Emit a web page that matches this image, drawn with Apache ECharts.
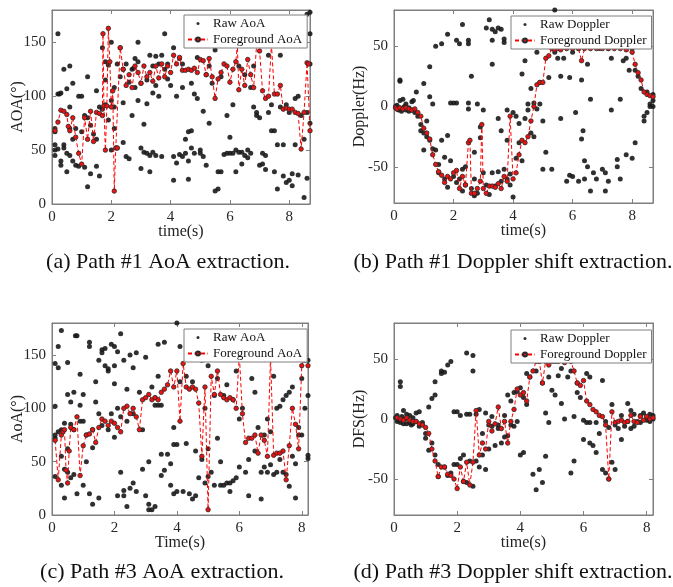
<!DOCTYPE html>
<html>
<head>
<meta charset="utf-8">
<script src="https://cdn.jsdelivr.net/npm/echarts@6/dist/echarts.min.js"></script>
<style>
  html, body { margin: 0; padding: 0; background: #fff; }
  #chart { width: 673px; height: 587px; }
</style>
</head>
<body>
<div id="chart"></div>
<script>
// (a) Path #1 AoA
var aoa1Raw = [[0.2,158],[0.1,70],[0.1,67],[0.1,55],[0.1,50],[0.1,45],[0.2,51],[0.2,102],[0.25,102],[0.3,103],[0.3,40],[0.3,36],
  [0.4,125],[0.4,55],[0.4,52],[0.5,107],[0.5,47],[0.5,30],[0.6,128],[0.6,90],[0.6,45],[0.6,70],[0.7,112],[0.7,60],[0.7,40],
  [0.8,70],[0.8,36],[0.9,100],[0.9,35],[1.0,100],[1.0,67],[1.1,82],[1.1,34],[1.2,118],[1.2,16],[1.2,80],[1.3,73],[1.3,28],
  [1.4,65],[1.5,35],[1.5,105],[1.6,26],[1.5,60],[1.6,90],[1.7,88],[1.7,145],[1.8,132],[1.8,115],[1.8,92],[1.9,129],[1.9,78],
  [2.0,150],[2.0,96],[2.0,50],[2.1,108],[2.1,70],[2.1,90],[2.2,130],[2.2,52],[2.3,145],[2.3,118],[2.4,94],[2.4,125],[2.4,57],
  [2.5,44],[2.5,130],[2.6,113],[2.6,42],[2.7,125],[2.7,82],[2.75,126],[2.8,135],[2.8,108],[2.9,150],[2.9,96],[2.9,132],
  [3.0,112],[3.0,52],[3.0,33],[3.1,48],[3.1,74],[3.2,93],[3.2,47],[3.2,115],[3.3,138],[3.3,45],[3.3,30],[3.4,128],[3.4,103],
  [3.4,48],[3.5,137],[3.5,110],[3.5,45],[3.6,130],[3.6,100],[3.7,138],[3.7,44],[3.8,158],[3.8,125],[3.9,130],[3.9,116],
  [4.0,110],[4.1,145],[4.1,44],[4.1,22],[4.2,100],[4.2,38],[4.3,135],[4.3,46],[4.4,130],[4.4,108],[4.4,44],[4.5,60],[4.5,47],
  [4.6,40],[4.6,67],[4.6,23],[4.7,112],[4.7,52],[4.7,68],[4.8,102],[4.8,47],[4.9,136],[4.9,98],[5.0,47],[5.0,50],[5.1,86],
  [5.1,44],[5.2,120],[5.2,36],[5.3,75],[5.3,128],[5.4,112],[5.5,143],[5.5,12],[5.6,30],[5.6,14],[5.7,118],[5.7,30],[5.8,46],
  [5.9,82],[5.9,47],[6.0,62],[6.0,47],[6.1,92],[6.1,47],[6.2,30],[6.2,50],[6.3,128],[6.3,48],[6.4,37],[6.4,48],[6.5,45],
  [6.5,120],[6.6,50],[6.6,43],[6.7,108],[6.7,47],[6.8,128],[6.8,90],[6.9,85],[6.9,82],[7.0,36],[7.0,80],[7.1,47],[7.1,37],
  [7.2,32],[7.2,45],[7.3,85],[7.3,138],[7.4,68],[7.4,92],[7.5,30],[7.5,68],[7.6,14],[7.6,55],[7.7,138],[7.7,90],[7.8,26],
  [7.8,55],[7.9,20],[7.9,92],[8.0,22],[8.0,85],[8.1,17],[8.1,28],[8.2,98],[8.2,55],[8.3,27],[8.3,100],[8.4,82],[8.5,6],
  [8.5,60],[8.6,24],[8.6,85],[8.7,178],[8.7,158],[8.7,130],[8.7,75],[8.6,176]];
var aoa1Fg = [[0.1,68],[0.2,76],[0.3,87],[0.4,86],[0.5,83],[0.55,72],[0.6,68],[0.7,80],[0.8,62],[0.9,47],[1.0,37],[1.1,80],
  [1.2,60],[1.3,86],[1.4,58],[1.5,85],[1.6,84],[1.7,82],[1.72,158],[1.75,91],[1.8,50],[1.85,91],[1.9,163],[1.95,132],[2.0,90],
  [2.05,105],[2.1,12],[2.15,52],[2.2,52],[2.3,145],[2.4,125],[2.5,110],[2.6,120],[2.7,108],[2.8,128],[2.9,122],[3.0,112],
  [3.1,128],[3.2,118],[3.3,122],[3.4,114],[3.5,128],[3.6,117],[3.7,130],[3.8,118],[3.9,128],[4.0,122],[4.1,138],[4.2,130],
  [4.3,136],[4.4,124],[4.5,124],[4.6,125],[4.7,124],[4.8,126],[4.9,122],[5.0,134],[5.1,133],[5.2,120],[5.3,135],[5.4,118],
  [5.5,98],[5.6,116],[5.7,122],[5.8,130],[5.9,128],[6.0,113],[6.1,125],[6.2,132],[6.25,148],[6.3,106],[6.4,125],[6.5,110],
  [6.6,134],[6.7,120],[6.8,108],[6.9,148],[7.0,142],[7.1,105],[7.2,98],[7.3,100],[7.4,148],[7.5,102],[7.6,102],[7.7,110],
  [7.8,88],[7.9,89],[8.0,88],[8.1,88],[8.2,85],[8.3,84],[8.4,51],[8.5,85],[8.6,131],[8.65,130],[8.7,68]];

// (b) Path #1 Doppler
var dop1Raw = [[0.05,0],[0.1,-2],[0.1,1],[0.15,-3],[0.2,5],[0.2,21],[0.2,22],[0.25,-4],[0.3,6],[0.3,-2],[0.35,0],[0.4,2],
  [0.4,-3],[0.5,-1],[0.5,-4],[0.6,4],[0.6,-3],[0.65,5],[0.7,-5],[0.75,12],[0.8,-8],[0.9,-15],[0.9,-20],[1.0,19],[1.0,-22],
  [1.0,-36],[1.1,-12],[1.1,-25],[1.2,33],[1.2,8],[1.2,-28],[1.3,2],[1.3,-35],[1.4,50],[1.4,-36],[1.5,-48],[1.5,-55],[1.6,52],
  [1.6,-28],[1.7,-42],[1.7,-60],[1.8,60],[1.8,-24],[1.8,-67],[1.9,-45],[1.9,3],[2.0,3],[2.0,-58],[2.1,55],[2.1,3],[2.1,-63],
  [2.2,52],[2.2,-60],[2.3,68],[2.3,-70],[2.3,-52],[2.4,-50],[2.4,-65],[2.5,55],[2.5,52],[2.5,-2],[2.5,3],[2.6,25],[2.6,-68],
  [2.7,-60],[2.7,-38],[2.7,-74],[2.8,2],[2.8,-72],[2.9,-17],[2.9,-26],[3.0,-55],[3.0,-3],[3.1,65],[3.1,-65],[3.2,72],[3.2,-73],
  [3.3,55],[3.3,35],[3.3,-55],[3.3,64],[3.4,62],[3.4,-66],[3.5,65],[3.5,-54],[3.5,-10],[3.6,64],[3.6,-20],[3.6,-62],[3.7,56],
  [3.7,-52],[3.7,53],[3.8,-3],[3.8,-60],[3.8,-28],[3.9,-65],[3.9,-56],[4.0,-75],[4.0,-5],[4.1,-8],[4.1,-43],[4.2,-14],[4.2,-30],
  [4.3,27],[4.3,-45],[4.4,38],[4.4,-10],[4.5,2],[4.5,-3],[4.6,-22],[4.6,15],[4.7,3],[4.7,-25],[4.8,45],[4.8,-2],[4.9,20],
  [4.9,2],[5.0,-52],[5.0,-12],[5.1,-38],[5.2,24],[5.3,-52],[5.4,80],[5.4,45],[5.5,40],[5.6,25],[5.6,-10],[5.7,40],[5.8,-62],
  [5.9,-57],[5.9,24],[6.0,-58],[6.0,45],[6.1,-5],[6.2,48],[6.2,-62],[6.3,-27],[6.3,22],[6.35,-20],[6.4,-60],[6.4,-45],[6.5,35],
  [6.5,-50],[6.6,6],[6.6,-70],[6.7,-55],[6.8,-60],[6.9,48],[7.0,-52],[7.1,-70],[7.1,-55],[7.2,48],[7.2,-62],[7.3,-3],[7.3,40],
  [7.5,-44],[7.5,-50],[7.6,-60],[7.6,6],[7.7,38],[7.8,-40],[7.8,40],[7.9,30],[8.0,-43],[8.0,48],[8.1,-30],[8.1,30],[8.2,25],
  [8.3,15],[8.4,-12],[8.4,-8],[8.5,-5],[8.5,12],[8.6,2],[8.6,0],[8.7,5],[8.7,10],[8.7,0]];
var dop1Fg = [[0.05,-1],[0.1,-2],[0.2,-1],[0.3,-2],[0.4,-1],[0.5,-2],[0.6,-3],[0.7,-2],[0.8,-5],[0.9,-8],[1.0,-18],[1.1,-22],
  [1.2,-27],[1.3,-40],[1.4,-48],[1.5,-54],[1.6,-57],[1.7,-63],[1.8,-58],[1.9,-60],[2.0,-55],[2.1,-53],[2.2,-68],[2.3,-58],
  [2.4,-65],[2.5,-30],[2.55,-28],[2.6,-72],[2.7,-72],[2.8,-68],[2.9,-62],[2.95,-15],[3.0,-68],[3.1,-72],[3.2,-66],[3.3,-66],
  [3.4,-67],[3.5,-64],[3.6,-68],[3.7,-58],[3.8,-62],[3.9,-8],[4.0,-60],[4.1,-55],[4.2,-40],[4.3,-28],[4.4,-30],[4.5,-25],
  [4.6,-12],[4.7,0],[4.8,18],[4.9,20],[5.0,20],[5.1,40],[5.2,42],[5.3,48],[5.4,47],[5.5,48],[5.6,47],[5.8,48],[6.0,48],
  [6.2,48],[6.3,38],[6.4,48],[6.6,48],[6.8,48],[7.0,48],[7.2,48],[7.4,48],[7.6,48],[7.8,47],[8.0,45],[8.1,35],[8.2,28],
  [8.3,22],[8.4,12],[8.5,10],[8.6,9],[8.7,8]];

// (c) Path #3 AoA
var aoa3Raw = [[0.1,142],[0.1,102],[0.1,75],[0.1,72],[0.1,36],[0.2,158],[0.2,138],[0.2,78],[0.3,173],[0.3,80],[0.3,55],[0.3,28],
  [0.4,86],[0.4,43],[0.4,16],[0.5,143],[0.5,113],[0.5,62],[0.5,40],[0.6,106],[0.6,85],[0.6,35],[0.7,115],[0.7,80],[0.7,38],
  [0.75,168],[0.8,168],[0.8,20],[0.9,132],[0.9,103],[0.9,88],[1.0,113],[1.0,88],[1.0,28],[1.1,50],[1.1,75],[1.2,162],[1.2,158],
  [1.2,20],[1.3,63],[1.3,10],[1.3,80],[1.4,125],[1.4,106],[1.5,145],[1.5,16],[1.5,95],[1.6,155],[1.6,152],[1.6,84],[1.7,140],
  [1.7,156],[1.8,135],[1.8,137],[1.8,80],[1.9,160],[1.9,95],[2.0,158],[2.0,123],[2.0,140],[2.0,73],[2.1,153],[2.1,18],[2.1,100],
  [2.2,170],[2.2,40],[2.2,92],[2.3,145],[2.3,18],[2.3,23],[2.4,118],[2.4,8],[2.4,88],[2.5,150],[2.5,25],[2.6,138],[2.6,30],
  [2.6,95],[2.7,152],[2.7,22],[2.8,115],[2.9,80],[2.9,43],[3.0,148],[3.0,18],[3.1,10],[3.1,50],[3.1,5],[3.2,120],[3.2,5],
  [3.3,110],[3.3,8],[3.3,103],[3.4,160],[3.4,130],[3.4,103],[3.5,57],[3.5,37],[3.5,103],[3.6,162],[3.6,42],[3.7,57],[3.8,28],
  [3.8,48],[3.9,82],[3.9,20],[3.9,66],[4.0,180],[4.0,66],[4.0,22],[4.1,158],[4.1,125],[4.2,22],[4.3,67],[4.3,130],[4.4,20],
  [4.5,125],[4.5,15],[4.6,18],[4.6,60],[4.7,155],[4.7,35],[4.8,145],[4.8,52],[4.9,100],[4.9,30],[5.0,140],[5.0,62],[5.0,36],
  [5.1,40],[5.2,28],[5.2,112],[5.3,128],[5.3,72],[5.4,50],[5.4,28],[5.5,112],[5.5,28],[5.6,30],[5.6,122],[5.7,22],[5.7,30],
  [5.8,108],[5.8,32],[5.9,135],[5.9,35],[6.0,90],[6.0,45],[6.1,100],[6.2,40],[6.3,18],[6.3,52],[6.4,128],[6.5,115],[6.5,60],
  [6.6,82],[6.7,40],[6.7,15],[6.8,45],[6.8,75],[6.9,40],[6.9,90],[7.0,78],[7.0,47],[7.1,130],[7.1,38],[7.2,100],[7.2,40],
  [7.3,102],[7.3,52],[7.4,108],[7.4,40],[7.5,112],[7.5,38],[7.6,115],[7.6,27],[7.7,120],[7.7,55],[7.8,48],[7.8,16],[7.9,75],
  [7.9,82],[8.0,170],[8.0,128],[8.0,75],[8.1,145],[8.1,100],[8.2,112],[8.2,56],[8.2,53],[8.2,145]];
var aoa3Fg = [[0.1,70],[0.2,33],[0.3,75],[0.35,78],[0.4,80],[0.45,42],[0.5,30],[0.55,60],[0.6,82],[0.7,80],[0.8,92],[0.9,37],
  [1.0,65],[1.1,75],[1.2,76],[1.3,80],[1.4,68],[1.5,82],[1.6,90],[1.7,88],[1.8,84],[1.9,88],[2.0,86],[2.1,82],[2.2,78],
  [2.3,100],[2.4,102],[2.5,95],[2.6,100],[2.7,92],[2.8,80],[2.9,108],[3.0,110],[3.1,113],[3.2,108],[3.3,110],[3.4,108],
  [3.5,115],[3.6,118],[3.7,122],[3.8,135],[3.9,120],[4.0,135],[4.1,88],[4.2,142],[4.3,120],[4.4,118],[4.5,120],[4.6,118],
  [4.7,105],[4.8,55],[4.9,120],[5.0,5],[5.1,130],[5.2,113],[5.3,135],[5.4,113],[5.5,110],[5.6,108],[5.7,110],[5.8,108],
  [5.9,100],[6.0,150],[6.1,95],[6.2,68],[6.3,72],[6.4,72],[6.5,75],[6.6,58],[6.7,75],[6.8,70],[6.9,55],[7.0,148],[7.1,56],
  [7.2,58],[7.3,58],[7.4,60],[7.5,33],[7.6,65],[7.7,100],[7.8,85],[7.9,62],[8.0,140],[8.1,150],[8.2,140]];

// (d) Path #3 DFS
var dfs3Raw = [[0.05,1],[0.1,-2],[0.1,3],[0.15,-1],[0.2,31],[0.2,27],[0.2,-3],[0.25,2],[0.3,7],[0.3,-4],[0.35,0],[0.4,4],
  [0.4,-4],[0.5,3],[0.5,-3],[0.55,-5],[0.6,1],[0.6,-4],[0.7,5],[0.7,-2],[0.8,6],[0.8,-6],[0.9,-3],[1.0,-12],[1.0,-16],
  [1.1,-26],[1.1,10],[1.2,17],[1.2,-20],[1.3,31],[1.3,20],[1.3,-30],[1.4,-38],[1.4,-48],[1.5,40],[1.5,38],[1.6,-40],[1.6,39],
  [1.7,-47],[1.7,45],[1.8,48],[1.8,-45],[1.9,-38],[1.9,6],[2.0,6],[2.0,-38],[2.1,-33],[2.1,3],[2.2,-30],[2.2,-52],[2.3,55],
  [2.3,4],[2.3,-53],[2.4,4],[2.4,-35],[2.5,53],[2.5,40],[2.5,-56],[2.6,-35],[2.6,4],[2.7,-40],[2.7,8],[2.8,-30],[2.8,-12],
  [2.9,-42],[2.9,5],[3.0,-5],[3.0,-25],[3.1,2],[3.1,-6],[3.2,-22],[3.3,-5],[3.3,-8],[3.4,-20],[3.5,3],[3.5,-15],[3.6,20],
  [3.6,-14],[3.7,15],[3.7,-5],[3.8,22],[3.8,-6],[3.9,23],[3.9,-2],[4.0,26],[4.0,-30],[4.1,18],[4.1,-28],[4.2,38],[4.2,12],
  [4.3,35],[4.4,-46],[4.5,40],[4.5,-59],[4.6,-42],[4.6,48],[4.7,-53],[4.7,30],[4.8,-31],[4.8,5],[4.9,35],[4.9,-3],[5.0,24],
  [5.1,20],[5.1,48],[5.2,36],[5.3,13],[5.3,42],[5.4,0],[5.5,35],[5.6,-45],[5.6,40],[5.7,-35],[5.7,2],[5.8,30],[5.8,22],
  [5.9,18],[6.0,-1],[6.0,-17],[6.1,38],[6.1,-3],[6.2,-3],[6.2,35],[6.2,-20],[6.3,-22],[6.4,-28],[6.4,-3],[6.5,-12],[6.6,32],
  [6.6,-42],[6.7,-45],[6.7,-2],[6.8,-50],[6.8,-7],[6.9,12],[6.9,-36],[7.0,-42],[7.0,-5],[7.1,-8],[7.2,-17],[7.2,3],[7.3,-6],
  [7.4,13],[7.4,-2],[7.5,7],[7.5,-8],[7.6,-6],[7.6,4],[7.7,-2],[7.8,3],[7.8,-3],[7.9,5],[8.0,2],[8.0,-1],[8.1,4],[8.1,-2],
  [8.2,3],[8.2,0]];
var dfs3Fg = [[0.1,1],[0.2,0],[0.3,-1],[0.4,1],[0.5,-1],[0.6,-2],[0.7,-2],[0.8,-4],[0.9,-5],[1.0,-7],[1.1,-12],[1.2,-25],
  [1.3,-35],[1.4,-48],[1.5,-40],[1.6,-40],[1.7,-46],[1.8,-47],[1.9,-50],[2.0,-58],[2.1,-40],[2.2,-52],[2.3,-36],[2.4,-55],
  [2.5,-36],[2.6,7],[2.7,-30],[2.8,-20],[2.9,-25],[3.0,-2],[3.1,-10],[3.2,-4],[3.3,10],[3.4,-8],[3.5,-2],[3.6,-20],[3.7,-2],
  [3.8,8],[3.9,25],[4.0,20],[4.1,22],[4.2,15],[4.3,35],[4.4,40],[4.5,48],[4.6,48],[4.7,30],[4.8,48],[4.9,45],[5.0,48],
  [5.2,48],[5.4,47],[5.6,48],[5.7,40],[5.8,30],[5.9,28],[6.0,32],[6.1,15],[6.2,12],[6.3,8],[6.4,6],[6.5,3],[6.6,2],[6.7,-5],
  [6.8,-50],[6.9,6],[7.0,-3],[7.1,-2],[7.2,-1],[7.3,-3],[7.4,-2],[7.5,3],[7.6,-2],[7.7,-3],[7.8,2],[7.9,-1],[8.0,2],
  [8.1,0],[8.2,1]];

var FONT = '"Liberation Serif", "Times New Roman", serif';
var BOX = '#7f7f7f';
// small dot centred in a 20x5 legend box
var dotIcon = 'path://M0,0L0,0M20,5L20,5M8.5,2.5a1.5,1.5 0 1,0 3,0a1.5,1.5 0 1,0 -3,0z';

var panels = [
  {grid: {left: 52, top: 10, width: 258, height: 194}, xMax: 8.7, y: [0, 180], xName: 'time(s)', yName: 'AOA(°)',
   names: ['Raw AoA', 'Foreground AoA'], raw: aoa1Raw, fg: aoa1Fg, legend: {left: 184, top: 15}},
  {grid: {left: 394, top: 10, width: 259, height: 193}, xMax: 8.7, y: [-80, 80], xName: 'time(s)', yName: 'Doppler(Hz)',
   names: ['Raw Doppler', 'Foreground Doppler'], raw: dop1Raw, fg: dop1Fg, legend: {left: 511, top: 16}},
  {grid: {left: 52, top: 323, width: 256, height: 192}, xMax: 8.2, y: [0, 180], xName: 'Time(s)', yName: 'AoA(°)',
   names: ['Raw AoA', 'Foreground AoA'], raw: aoa3Raw, fg: aoa3Fg, legend: {left: 184, top: 329}},
  {grid: {left: 394, top: 323, width: 259, height: 192}, xMax: 8.2, y: [-80, 80], xName: 'time(s)', yName: 'DFS(Hz)',
   names: ['Raw Doppler', 'Foreground Doppler'], raw: dfs3Raw, fg: dfs3Fg, legend: {left: 511, top: 330}}
];

var captions = [
  {x: 168, y: 262, text: '(a) Path #1 AoA extraction.'},
  {x: 513, y: 262, text: '(b) Path #1 Doppler shift extraction.'},
  {x: 162, y: 572, text: '(c) Path #3 AoA extraction.'},
  {x: 513, y: 572, text: '(d) Path #3 Doppler shift extraction.'}
];

var grids = [], xAxes = [], yAxes = [], series = [], legends = [];

function yRange(p) {
  var o = {min: p.y[0], max: p.y[1]};
  if (p.y[0] === 0) { o.interval = 50; } else { o.splitNumber = 3; o.minInterval = 50; o.maxInterval = 50; }
  return o;
}

panels.forEach(function (p, i) {
  grids.push(Object.assign({show: true, borderColor: BOX, borderWidth: 1, backgroundColor: '#fff'}, p.grid));
  var tick = {show: true, inside: true, length: 4, lineStyle: {color: BOX}};
  var line = {show: true, onZero: false, lineStyle: {color: BOX}};
  xAxes.push({
    type: 'value', gridIndex: i, min: 0, max: p.xMax, interval: 2, position: 'bottom',
    name: p.xName, nameLocation: 'middle', nameGap: 20, nameMoveOverlap: false,
    nameTextStyle: {fontFamily: FONT, fontSize: 16, color: '#222'},
    axisLine: line, axisTick: tick, splitLine: {show: false},
    axisLabel: {fontFamily: FONT, fontSize: 15, color: '#262626', margin: 6, showMaxLabel: false}
  });
  xAxes.push({
    type: 'value', gridIndex: i, min: 0, max: p.xMax, interval: 2, position: 'top',
    axisLine: line, axisTick: tick, splitLine: {show: false}, axisLabel: {show: false}
  });
  var yr = yRange(p);
  yAxes.push(Object.assign({
    type: 'value', gridIndex: i, position: 'left',
    name: p.yName, nameLocation: 'middle', nameGap: 26, nameMoveOverlap: false,
    nameTextStyle: {fontFamily: FONT, fontSize: 16, color: '#222'},
    axisLine: line, axisTick: tick, splitLine: {show: false},
    axisLabel: {fontFamily: FONT, fontSize: 15, color: '#262626', margin: 6,
      showMaxLabel: false, showMinLabel: p.y[0] === 0}
  }, yr));
  yAxes.push(Object.assign({
    type: 'value', gridIndex: i, position: 'right',
    axisLine: line, axisTick: tick, splitLine: {show: false}, axisLabel: {show: false}
  }, yr));

  series.push({
    name: p.names[0], type: 'scatter', xAxisIndex: 2 * i, yAxisIndex: 2 * i,
    data: p.raw, symbol: 'circle', symbolSize: 5,
    itemStyle: {color: '#1a1a1a', opacity: 0.9}, z: 2
  });
  series.push({
    name: p.names[1], type: 'line', xAxisIndex: 2 * i, yAxisIndex: 2 * i,
    data: p.fg, symbol: 'circle', symbolSize: 4.5, showSymbol: true,
    lineStyle: {color: '#ff0000', width: 1, type: [4, 2.5]},
    itemStyle: {color: '#f01010', borderColor: '#2a2a2a', borderWidth: 0.8}, z: 3
  });

  legends.push({
    orient: 'vertical', left: p.legend.left, top: p.legend.top,
    padding: [1, 5, 1, 3], itemGap: 1, itemWidth: 20, itemHeight: 5,
    backgroundColor: '#fff', borderColor: BOX, borderWidth: 1, borderRadius: 0,
    textStyle: {fontFamily: FONT, fontSize: 13, color: '#111', lineHeight: 15},
    selectedMode: false,
    data: [{name: p.names[0], icon: dotIcon}, {name: p.names[1]}]
  });
});

var chart = echarts.init(document.getElementById('chart'));
chart.setOption({
  animation: false,
  backgroundColor: '#fff',
  grid: grids,
  xAxis: xAxes,
  yAxis: yAxes,
  legend: legends,
  series: series,
  graphic: captions.map(function (c) {
    return {
      type: 'text', x: c.x, y: c.y,
      style: {text: c.text, font: '22px ' + FONT, fill: '#111', textAlign: 'center', textVerticalAlign: 'middle'}
    };
  })
});
</script>
</body>
</html>
